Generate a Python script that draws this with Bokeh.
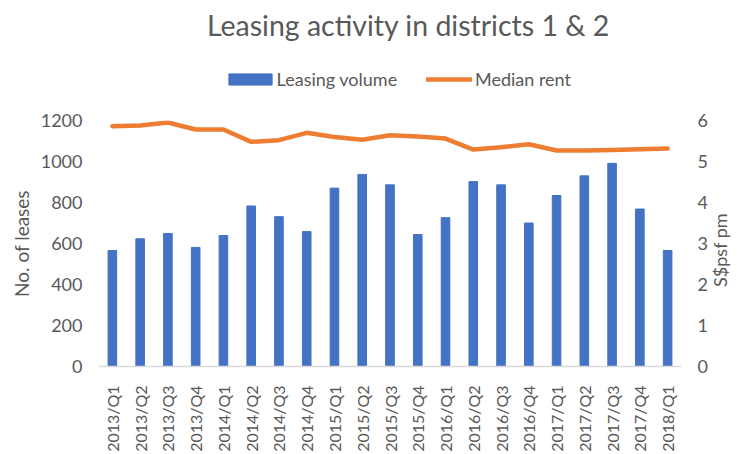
import math
from bokeh.plotting import figure
from bokeh.layouts import column
from bokeh.models import (ColumnDataSource, Range1d, LinearAxis, FixedTicker,
                          Legend, LegendItem, FactorRange, Label)
from bokeh.embed import file_html
from bokeh.resources import INLINE

quarters = ["2013/Q1", "2013/Q2", "2013/Q3", "2013/Q4",
            "2014/Q1", "2014/Q2", "2014/Q3", "2014/Q4",
            "2015/Q1", "2015/Q2", "2015/Q3", "2015/Q4",
            "2016/Q1", "2016/Q2", "2016/Q3", "2016/Q4",
            "2017/Q1", "2017/Q2", "2017/Q3", "2017/Q4",
            "2018/Q1"]
leasing_volume = [566, 623, 649, 581, 639, 783, 731, 658, 870, 937, 886,
                  644, 726, 902, 886, 700, 834, 930, 991, 768, 566]
median_rent = [5.86, 5.88, 5.95, 5.78, 5.78, 5.48, 5.52, 5.70, 5.60, 5.53, 5.64,
               5.61, 5.56, 5.29, 5.35, 5.42, 5.27, 5.27, 5.28, 5.30, 5.32]
left_ticks = [0, 200, 400, 600, 800, 1000, 1200]
right_ticks = [0, 1, 2, 3, 4, 5, 6]
right_title = "S$psf pm"
right_title_pos = 1.94   # where the (bottom-to-top) right axis title starts

FONT = "Lato"
TXT = "#595959"
BAR_C = "#4472c4"
LINE_C = "#ed7d31"

# ---------- header: title + legend (frame is aligned with the chart below) ----------
head = figure(width=745, height=108, x_range=Range1d(0, 1), y_range=Range1d(0, 1),
              output_backend="svg", toolbar_location=None, min_border=0,
              outline_line_color=None, title=None)
head.axis.visible = False
head.grid.visible = False
# off-screen stand-ins so the legend can show the swatches
swatch_bar = head.vbar(x=[-10], top=[-10], bottom=[-11], width=0.1,
                       fill_color=BAR_C, line_color=BAR_C)
swatch_line = head.line(x=[-10, -9], y=[-10, -10], line_color=LINE_C,
                        line_width=4.5, line_cap="round")

head.add_layout(Label(x=310, y=84, x_units="screen", y_units="screen",
                      text="Leasing activity in districts 1 & 2",
                      text_align="center", text_baseline="middle", text_font=FONT,
                      text_font_size="28.5px", text_color=TXT))

def mk_legend(label, rend, gw, x, standoff):
    lg = Legend(items=[LegendItem(label=label, renderers=[rend])],
                location=(x, 18.5), orientation="horizontal",
                glyph_width=gw, glyph_height=14, label_height=14,
                label_standoff=standoff, padding=0, margin=0, spacing=0,
                border_line_color=None, background_fill_alpha=0,
                label_text_font=FONT, label_text_font_size="18px",
                label_text_color=TXT)
    head.add_layout(lg, "center")

mk_legend("Leasing volume", swatch_bar, 54, 124.6, 0)
mk_legend("Median rent", swatch_line, 46, 328, 3)

# ---------- main chart ----------
src = ColumnDataSource(dict(q=quarters, v=leasing_volume, r=median_rent))

p = figure(width=745, height=346, x_range=FactorRange(factors=quarters),
           y_range=Range1d(left_ticks[0], left_ticks[-1]), output_backend="svg",
           toolbar_location=None, min_border_left=98, min_border_right=58,
           min_border_top=12, min_border_bottom=86, outline_line_color=None)
p.extra_y_ranges = {"rent": Range1d(right_ticks[0], right_ticks[-1])}
p.xgrid.visible = False
p.ygrid.visible = False

bars = p.vbar(x="q", top="v", width=0.31, source=src,
              fill_color=BAR_C, line_color=BAR_C)
line = p.line(x="q", y="r", source=src, y_range_name="rent",
              line_color=LINE_C, line_width=4.5,
              line_cap="round", line_join="round")

def no_ticks(ax):
    ax.major_tick_line_color = None
    ax.minor_tick_line_color = None
    ax.major_tick_out = 0
    ax.major_tick_in = 0
    ax.minor_tick_out = 0
    ax.minor_tick_in = 0

# left axis
ya = p.yaxis[0]
ya.ticker = FixedTicker(ticks=left_ticks)
ya.axis_line_color = None
no_ticks(ya)
ya.major_label_text_font = FONT
ya.major_label_text_font_size = "18px"
ya.major_label_text_color = TXT
ya.major_label_standoff = 16
ya.axis_label = "No. of leases"
ya.axis_label_text_font = FONT
ya.axis_label_text_font_style = "normal"
ya.axis_label_text_font_size = "19px"
ya.axis_label_text_color = TXT
ya.axis_label_standoff = 5

# right axis
ra = LinearAxis(y_range_name="rent", ticker=FixedTicker(ticks=right_ticks))
ra.axis_line_color = None
no_ticks(ra)
ra.major_label_text_font = FONT
ra.major_label_text_font_size = "18px"
ra.major_label_text_color = TXT
ra.major_label_standoff = 16
p.add_layout(ra, "right")

# right axis title, reading bottom to top
rt = LinearAxis(y_range_name="rent", ticker=FixedTicker(ticks=[right_title_pos]),
                major_label_overrides={right_title_pos: right_title})
rt.axis_line_color = None
no_ticks(rt)
rt.major_label_orientation = math.pi / 2
rt.major_label_text_font = FONT
rt.major_label_text_font_size = "18px"
rt.major_label_text_color = TXT
rt.major_label_standoff = 10
p.add_layout(rt, "right")

# x axis
xa = p.xaxis[0]
xa.axis_line_color = "#d9d9d9"
xa.axis_line_width = 1.5
no_ticks(xa)
xa.major_label_orientation = math.pi / 2
xa.major_label_text_font = FONT
xa.major_label_text_font_size = "16px"
xa.major_label_text_color = TXT
xa.major_label_standoff = 19

layout = column(head, p, spacing=0)
open("out.html", "w").write(file_html(layout, INLINE))
